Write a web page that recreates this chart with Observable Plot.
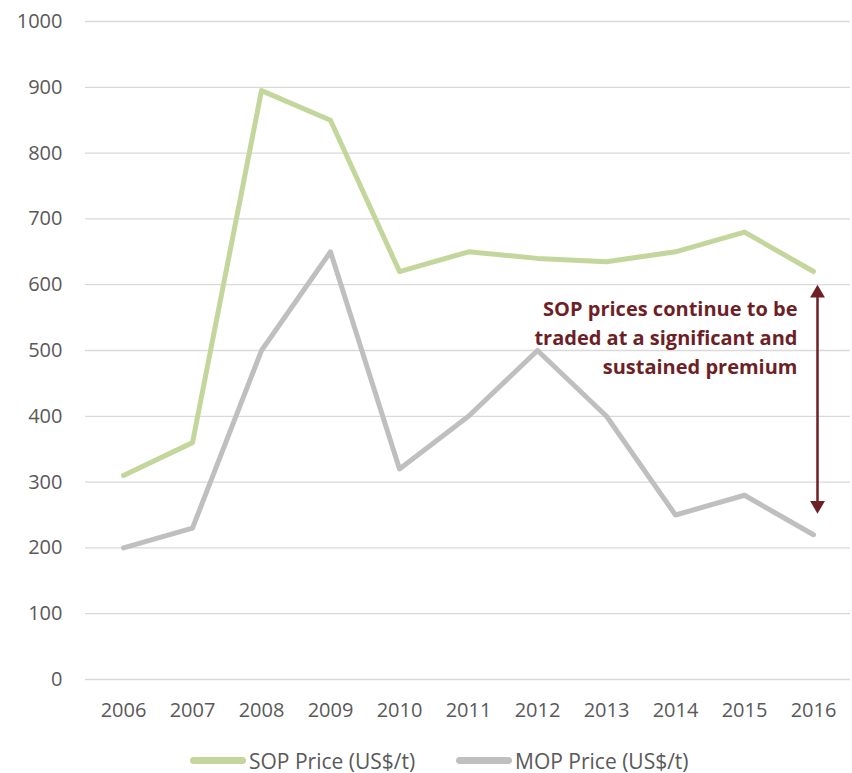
<!DOCTYPE html>
<html>
<head>
<meta charset="utf-8">
<script src="https://cdn.jsdelivr.net/npm/d3@7"></script>
<script src="https://cdn.jsdelivr.net/npm/@observablehq/plot@0.6"></script>
<style>
  html, body { margin: 0; padding: 0; background: #fff; }
  #chart { width: 852px; height: 748px; }
  .legend { position: relative; height: 25px; font-family: "Open Sans", sans-serif; font-size: 21px; color: #595959; }
  .legend .item { position: absolute; top: 0; height: 25px; display: flex; align-items: center; white-space: nowrap; }
  .legend .sw { width: 56px; height: 7px; border-radius: 3.5px; margin-right: 3px; }
</style>
</head>
<body>
<div id="chart"></div>
<script>
const years = ["2006","2007","2008","2009","2010","2011","2012","2013","2014","2015","2016"];
const sopPrice = [310, 360, 895, 850, 620, 650, 640, 635, 650, 680, 620];
const mopPrice = [200, 230, 500, 650, 320, 400, 500, 400, 250, 280, 220];
const seriesNames = ["SOP Price (US$/t)", "MOP Price (US$/t)"];
const seriesColors = ["#C3D69B", "#BFBFBF"];
const yTicks = [0, 100, 200, 300, 400, 500, 600, 700, 800, 900, 1000];
const premiumYear = "2016";
const premiumTop = 600;
const premiumBottom = 252;
const annotationText = "SOP prices continue to be\ntraded at a significant and\nsustained premium";
const annotationY = 523;
const annotationColor = "#6E1F26";

const data = [];
years.forEach((y, i) => {
  data.push({year: y, value: sopPrice[i], series: seriesNames[0]});
  data.push({year: y, value: mopPrice[i], series: seriesNames[1]});
});

const chart = Plot.plot({
  width: 852,
  height: 748,
  marginTop: 21,
  marginBottom: 69,
  marginLeft: 85,
  marginRight: 2,
  style: {fontFamily: "'Open Sans', sans-serif", fontSize: "20px", color: "#595959", background: "#fff"},
  x: {type: "point", domain: years, padding: 0.5, label: null},
  y: {domain: [0, 1000], label: null},
  color: {domain: seriesNames, range: seriesColors},
  marks: [
    Plot.gridY(yTicks, {stroke: "#D9D9D9", strokeOpacity: 1, strokeWidth: 1.3}),
    Plot.axisY(yTicks, {tickSize: 0, tickPadding: 23, fill: "#595959", fontSize: 20, label: null, tickFormat: d => String(d)}),
    Plot.axisX(years, {tickSize: 0, tickPadding: 23, fill: "#595959", fontSize: 20, label: null}),
    Plot.line(data, {x: "year", y: "value", z: "series", stroke: "series", strokeWidth: 5, strokeLinejoin: "round", strokeLinecap: "round"}),
    Plot.ruleX([premiumYear], {x: d => d, y1: premiumTop, y2: premiumBottom, stroke: annotationColor, strokeWidth: 2.5, dx: 4, insetTop: 6, insetBottom: 6}),
    Plot.dot([{y: premiumTop}], {x: () => premiumYear, y: "y", symbol: "triangle", r: 5.5, fill: annotationColor, stroke: "none", dx: 4, dy: 8.5}),
    Plot.dot([{y: premiumBottom}], {x: () => premiumYear, y: "y", symbol: "triangle", r: 5.5, rotate: 180, fill: annotationColor, stroke: "none", dx: 4, dy: -8.5}),
    Plot.text([annotationText], {x: () => premiumYear, y: () => annotationY, text: d => d, textAnchor: "end", dx: -16, fill: annotationColor, fontWeight: "bold", fontSize: 20, lineHeight: 1.45})
  ]
});
document.getElementById("chart").appendChild(chart);

const legend = document.createElement("div");
legend.className = "legend";
const legendLeft = [190, 456];
seriesNames.forEach((n, i) => {
  const item = document.createElement("div");
  item.className = "item";
  item.style.left = legendLeft[i] + "px";
  const sw = document.createElement("span");
  sw.className = "sw";
  sw.style.background = seriesColors[i];
  const t = document.createElement("span");
  t.textContent = n;
  item.appendChild(sw); item.appendChild(t);
  legend.appendChild(item);
});
document.body.appendChild(legend);
</script>
</body>
</html>
